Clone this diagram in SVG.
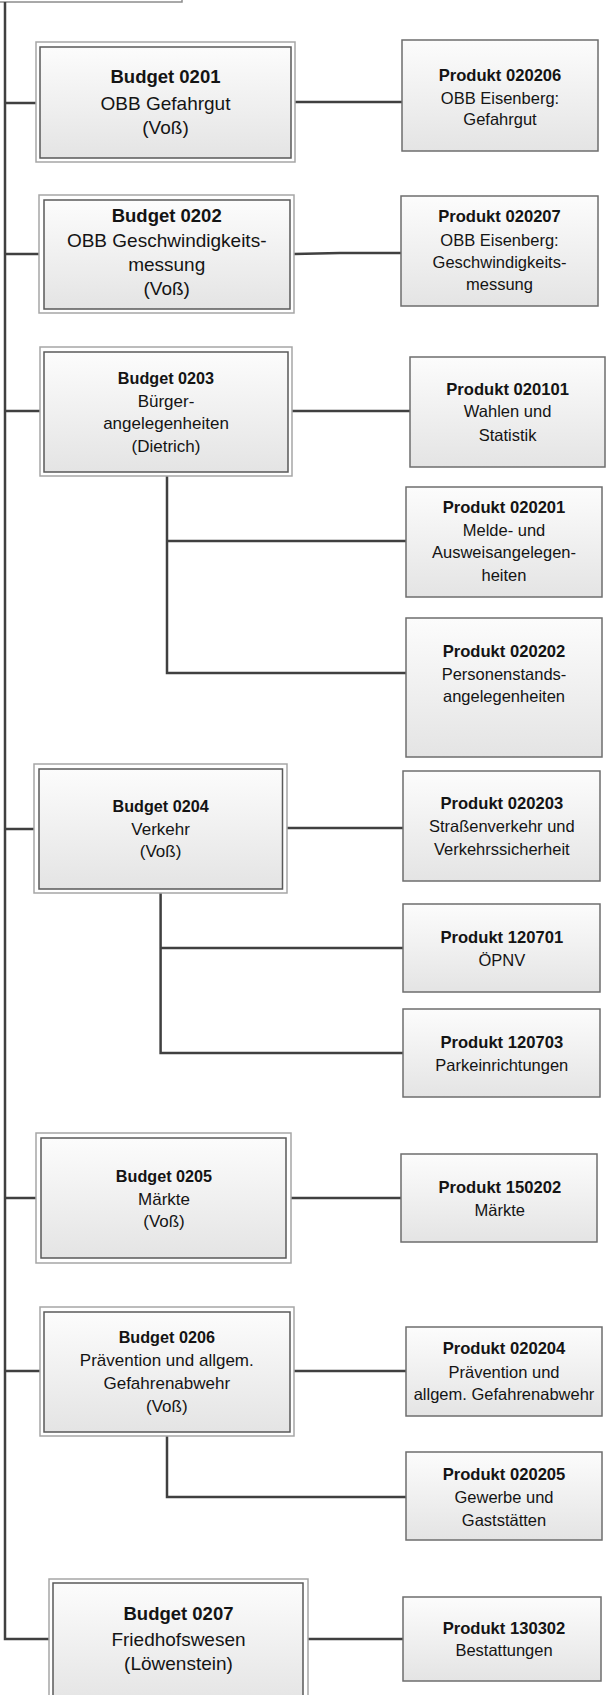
<svg xmlns="http://www.w3.org/2000/svg" width="611" height="1695" viewBox="0 0 611 1695">
<defs>
<linearGradient id="g" x1="0" y1="0" x2="0" y2="1">
<stop offset="0" stop-color="#fcfcfc"/>
<stop offset="1" stop-color="#e4e4e4"/>
</linearGradient>
<style>
.bo{fill:#ffffff;stroke:#a6a6a6;stroke-width:1.5}
.bi{fill:url(#g);stroke:#595959;stroke-width:1.5}
.p{fill:url(#g);stroke:#6e6e6e;stroke-width:1.5}
.c{fill:none;stroke:#404040;stroke-width:2.5}
text{font-family:"Liberation Sans",Arial,sans-serif;fill:#141414;text-anchor:middle}
.L{font-size:19px}.L .b{font-size:18.5px}
.M{font-size:17px}.M .b{font-size:16.2px}
.P{font-size:16.5px}.P .b{font-size:16.6px}
.b{font-weight:bold}
</style>
</defs>
<rect x="-10" y="-30" width="192" height="32" fill="#ffffff" stroke="#8c8c8c" stroke-width="1.5"/>
<g id="connectors">
<path class="c" d="M5,2 V1639 H49"/>
<path class="c" d="M5,103 H36 M295,102 H402"/>
<path class="c" d="M5,254 H39 M294,254 L340,253 H401"/>
<path class="c" d="M5,411 H40 M292,411 H410"/>
<path class="c" d="M167,476 V673 H406 M167,541 H406"/>
<path class="c" d="M5,829 H34 M287,828 H403"/>
<path class="c" d="M160.6,893 V1053 H403 M160.6,948 H403"/>
<path class="c" d="M5,1198 H36 M291,1198 H401"/>
<path class="c" d="M5,1371 H40 M294,1371 H406"/>
<path class="c" d="M167,1436 V1497 H406"/>
<path class="c" d="M308,1639 H403"/>
</g>
<g id="budget0201" class="L">
<rect class="bo" x="36" y="42" width="259" height="120"/>
<rect class="bi" x="40" y="47" width="251" height="111"/>
<text x="165.5" y="83" class="b">Budget 0201</text>
<text x="165.5" y="110">OBB Gefahrgut</text>
<text x="165.5" y="134">(Voß)</text>
</g>
<g id="budget0202" class="L">
<rect class="bo" x="39" y="195" width="255" height="118"/>
<rect class="bi" x="44" y="200" width="246" height="109"/>
<text x="166.7" y="222" class="b">Budget 0202</text>
<text x="166.7" y="246.5">OBB Geschwindigkeits-</text>
<text x="166.7" y="271">messung</text>
<text x="166.7" y="295">(Voß)</text>
</g>
<g id="budget0203" class="M">
<rect class="bo" x="40" y="347" width="252" height="129"/>
<rect class="bi" x="44" y="352" width="244" height="120"/>
<text x="166" y="384" class="b">Budget 0203</text>
<text x="166" y="406.7">Bürger-</text>
<text x="166" y="429.3">angelegenheiten</text>
<text x="166" y="451.7">(Dietrich)</text>
</g>
<g id="budget0204" class="M">
<rect class="bo" x="34" y="764" width="253" height="129"/>
<rect class="bi" x="39" y="769" width="243.5" height="120"/>
<text x="160.6" y="811.7" class="b">Budget 0204</text>
<text x="160.6" y="835">Verkehr</text>
<text x="160.6" y="857.3">(Voß)</text>
</g>
<g id="budget0205" class="M">
<rect class="bo" x="36" y="1133" width="255" height="130"/>
<rect class="bi" x="41" y="1138" width="245" height="120"/>
<text x="164" y="1181.7" class="b">Budget 0205</text>
<text x="164" y="1205">Märkte</text>
<text x="164" y="1227.3">(Voß)</text>
</g>
<g id="budget0206" class="M">
<rect class="bo" x="40" y="1307" width="254" height="129"/>
<rect class="bi" x="44" y="1312" width="246" height="120"/>
<text x="166.8" y="1342.7" class="b">Budget 0206</text>
<text x="166.8" y="1365.7">Prävention und allgem.</text>
<text x="166.8" y="1389">Gefahrenabwehr</text>
<text x="166.8" y="1411.7">(Voß)</text>
</g>
<g id="budget0207" class="L">
<rect class="bo" x="49" y="1579" width="259" height="131"/>
<rect class="bi" x="53" y="1583" width="250" height="122"/>
<text x="178.5" y="1620" class="b">Budget 0207</text>
<text x="178.5" y="1646">Friedhofswesen</text>
<text x="178.5" y="1670">(Löwenstein)</text>
</g>
<g id="produkt020206" class="P">
<rect class="p" x="402" y="40" width="196" height="111"/>
<text x="500" y="80.7" class="b">Produkt 020206</text>
<text x="500" y="104">OBB Eisenberg:</text>
<text x="500" y="125">Gefahrgut</text>
</g>
<g id="produkt020207" class="P">
<rect class="p" x="401" y="196" width="197" height="110"/>
<text x="499.5" y="222.3" class="b">Produkt 020207</text>
<text x="499.5" y="245.7">OBB Eisenberg:</text>
<text x="499.5" y="268.3">Geschwindigkeits-</text>
<text x="499.5" y="290">messung</text>
</g>
<g id="produkt020101" class="P">
<rect class="p" x="410" y="357" width="195" height="110"/>
<text x="507.6" y="395" class="b">Produkt 020101</text>
<text x="507.6" y="417.3">Wahlen und</text>
<text x="507.6" y="440.7">Statistik</text>
</g>
<g id="produkt020201" class="P">
<rect class="p" x="406" y="487" width="196" height="110"/>
<text x="504" y="512.7" class="b">Produkt 020201</text>
<text x="504" y="535.7">Melde- und</text>
<text x="504" y="558.3">Ausweisangelegen-</text>
<text x="504" y="580.7">heiten</text>
</g>
<g id="produkt020202" class="P">
<rect class="p" x="406" y="618" width="196" height="139"/>
<text x="504" y="656.7" class="b">Produkt 020202</text>
<text x="504" y="680">Personenstands-</text>
<text x="504" y="702">angelegenheiten</text>
</g>
<g id="produkt020203" class="P">
<rect class="p" x="403" y="771" width="197" height="110"/>
<text x="501.8" y="809" class="b">Produkt 020203</text>
<text x="501.8" y="832.3">Straßenverkehr und</text>
<text x="501.8" y="855">Verkehrssicherheit</text>
</g>
<g id="produkt120701" class="P">
<rect class="p" x="403" y="904" width="197" height="88"/>
<text x="501.8" y="942.7" class="b">Produkt 120701</text>
<text x="501.8" y="965.7">ÖPNV</text>
</g>
<g id="produkt120703" class="P">
<rect class="p" x="403" y="1009" width="197" height="88"/>
<text x="501.8" y="1047.7" class="b">Produkt 120703</text>
<text x="501.8" y="1070.7">Parkeinrichtungen</text>
</g>
<g id="produkt150202" class="P">
<rect class="p" x="401" y="1154" width="196" height="88"/>
<text x="499.8" y="1192.7" class="b">Produkt 150202</text>
<text x="499.8" y="1216">Märkte</text>
</g>
<g id="produkt020204" class="P">
<rect class="p" x="406" y="1327" width="196" height="89"/>
<text x="504" y="1354.3" class="b">Produkt 020204</text>
<text x="504" y="1377.7">Prävention und</text>
<text x="504" y="1400">allgem. Gefahrenabwehr</text>
</g>
<g id="produkt020205" class="P">
<rect class="p" x="406" y="1452" width="196" height="88"/>
<text x="504" y="1480" class="b">Produkt 020205</text>
<text x="504" y="1502.7">Gewerbe und</text>
<text x="504" y="1525.7">Gaststätten</text>
</g>
<g id="produkt130302" class="P">
<rect class="p" x="403" y="1597" width="198" height="84"/>
<text x="504" y="1634.3" class="b">Produkt 130302</text>
<text x="504" y="1656">Bestattungen</text>
</g>
</svg>
